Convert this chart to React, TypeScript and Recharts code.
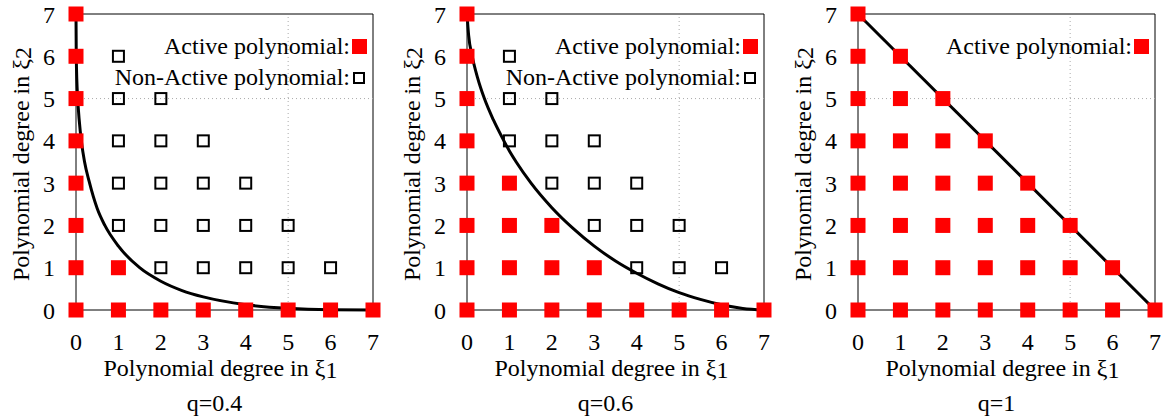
import { ComposedChart, Scatter, Line, XAxis, YAxis, ReferenceArea, ReferenceLine } from "recharts";

const degreeTicks = [0, 1, 2, 3, 4, 5, 6, 7];
const gridAt = 5;

// q = 0.4
const q04Active: [number, number][] = [
  [0, 0], [0, 1], [0, 2], [0, 3], [0, 4], [0, 5], [0, 6], [0, 7],
  [1, 0], [2, 0], [3, 0], [4, 0], [5, 0], [6, 0], [7, 0],
  [1, 1],
];
const q04NonActive: [number, number][] = [
  [1, 2], [1, 3], [1, 4], [1, 5], [1, 6],
  [2, 1], [2, 2], [2, 3], [2, 4], [2, 5],
  [3, 1], [3, 2], [3, 3], [3, 4],
  [4, 1], [4, 2], [4, 3],
  [5, 1], [5, 2],
  [6, 1],
];
const q04Curve: [number, number][] = [
  [0, 7], [0.006, 6], [0.039, 5], [0.05, 4.82], [0.1, 4.23], [0.126, 4], [0.2, 3.51],
  [0.31, 3.04], [0.5, 2.4], [0.68, 2], [1, 1.51], [1.5, 1.0], [2, 0.68], [2.5, 0.46],
  [3, 0.31], [4, 0.126], [5, 0.039], [6, 0.006], [7, 0],
];

// q = 0.6
const q06Active: [number, number][] = [
  [0, 0], [0, 1], [0, 2], [0, 3], [0, 4], [0, 5], [0, 6], [0, 7],
  [1, 0], [2, 0], [3, 0], [4, 0], [5, 0], [6, 0], [7, 0],
  [1, 1], [1, 2], [1, 3], [2, 1], [2, 2], [3, 1],
];
const q06NonActive: [number, number][] = [
  [1, 4], [1, 5], [1, 6],
  [2, 3], [2, 4], [2, 5],
  [3, 2], [3, 3], [3, 4],
  [4, 1], [4, 2], [4, 3],
  [5, 1], [5, 2],
  [6, 1],
];
const q06Curve: [number, number][] = [
  [0, 7], [0.038, 6.5], [0.123, 6], [0.25, 5.49], [0.41, 5], [0.62, 4.5], [0.87, 4],
  [1, 3.76], [1.16, 3.5], [1.51, 3], [2, 2.42], [2.5, 1.93], [3, 1.51], [3.5, 1.16],
  [4, 0.87], [4.5, 0.62], [5, 0.41], [5.5, 0.25], [6, 0.123], [6.5, 0.038], [7, 0],
];

// q = 1
const q1Active: [number, number][] = [
  [0, 0], [0, 1], [0, 2], [0, 3], [0, 4], [0, 5], [0, 6], [0, 7],
  [1, 0], [1, 1], [1, 2], [1, 3], [1, 4], [1, 5], [1, 6],
  [2, 0], [2, 1], [2, 2], [2, 3], [2, 4], [2, 5],
  [3, 0], [3, 1], [3, 2], [3, 3], [3, 4],
  [4, 0], [4, 1], [4, 2], [4, 3],
  [5, 0], [5, 1], [5, 2],
  [6, 0], [6, 1],
  [7, 0],
];
const q1NonActive: [number, number][] = [];
const q1Curve: [number, number][] = [[0, 7], [7, 0]];

const FONT = "'Liberation Serif', 'DejaVu Serif', serif";
const FS = 24;
const RED = "#ff0000";

const toPoints = (pairs: [number, number][]) => pairs.map(([x, y]) => ({ x, y }));

const FilledSquare = (props: any) => (
  <rect x={props.cx - 7.5} y={props.cy - 7.5} width={15} height={15} fill={RED} />
);
const OpenSquare = (props: any) => (
  <rect x={props.cx - 5.5} y={props.cy - 5.5} width={11} height={11} fill="none" stroke="#000" strokeWidth={2} />
);

interface PanelProps {
  left: number;
  width: number;
  plotLeft: number;
  active: [number, number][];
  nonActive: [number, number][];
  curve: [number, number][];
  title: string;
  curveType: "monotone" | "linear";
}

const PLOT_W = 297;
const PLOT_TOP = 14;
const PLOT_BOTTOM = 310;

function Panel({ left, width, plotLeft, active, nonActive, curve, title, curveType }: PanelProps) {
  const plotRight = plotLeft + PLOT_W;
  const center = plotLeft + PLOT_W / 2;
  const midY = (PLOT_TOP + PLOT_BOTTOM) / 2;
  const textStyle = { position: "absolute" as const, fontSize: FS, lineHeight: "28px", whiteSpace: "nowrap" as const };
  return (
    <div style={{ position: "absolute", left, top: 0, width, height: 416, fontFamily: FONT }}>
      <ComposedChart
        width={width}
        height={416}
        margin={{ top: PLOT_TOP, right: width - plotRight, left: plotLeft - 60, bottom: 416 - PLOT_BOTTOM - 30 }}
      >
        <XAxis
          type="number"
          dataKey="x"
          domain={[0, 7]}
          ticks={degreeTicks}
          height={30}
          axisLine={false}
          tickLine={false}
          tickSize={6}
          tickMargin={17}
          tick={{ fontSize: FS, fill: "#000", fontFamily: FONT }}
        />
        <YAxis
          type="number"
          dataKey="y"
          domain={[0, 7]}
          ticks={degreeTicks}
          width={60}
          axisLine={false}
          tickLine={false}
          tickSize={6}
          tickMargin={15}
          tick={{ fontSize: FS, fill: "#000", fontFamily: FONT }}
        />
        <ReferenceArea x1={0} x2={7} y1={0} y2={7} fill="none" stroke="#000" strokeWidth={1} fillOpacity={0} />
        <ReferenceLine x={gridAt} stroke="#aaa" strokeDasharray="1 3" />
        <ReferenceLine y={gridAt} stroke="#aaa" strokeDasharray="1 3" />
        <Scatter data={toPoints(active)} shape={FilledSquare} isAnimationActive={false} />
        {nonActive.length > 0 && (
          <Scatter data={toPoints(nonActive)} shape={OpenSquare} isAnimationActive={false} />
        )}
        <Line
          data={toPoints(curve)}
          dataKey="y"
          type={curveType}
          stroke="#000"
          strokeWidth={3}
          dot={false}
          activeDot={false}
          isAnimationActive={false}
        />
      </ComposedChart>

      {/* legend */}
      <div style={{ ...textStyle, right: width - plotRight + 23, top: 32 }}>Active polynomial:</div>
      <div style={{ position: "absolute", left: plotRight - 21, top: 39, width: 15, height: 15, background: RED }} />
      {nonActive.length > 0 && (
        <>
          <div style={{ ...textStyle, right: width - plotRight + 23, top: 63 }}>Non-Active polynomial:</div>
          <div style={{ position: "absolute", left: plotRight - 20, top: 72, width: 12, height: 12, boxSizing: "border-box", border: "2px solid #000" }} />
        </>
      )}

      {/* axis titles */}
      <div style={{ ...textStyle, left: center - 154, width: 300, top: 354, textAlign: "center" }}>
        Polynomial degree in ξ<span style={{ position: "relative", top: 2 }}>1</span>
      </div>
      <div style={{ ...textStyle, left: center - 160, width: 300, top: 389, textAlign: "center" }}>{title}</div>
      <div
        style={{
          ...textStyle,
          left: plotLeft - 55 - 150,
          top: midY - 14 + 2,
          width: 300,
          textAlign: "center",
          transform: "rotate(-90deg)",
        }}
      >
        Polynomial degree in ξ<span style={{ position: "relative", top: 2 }}>2</span>
      </div>
    </div>
  );
}

export default function App() {
  return (
    <div style={{ position: "absolute", left: 0, top: 0, width: 1165, height: 416, background: "#fff", overflow: "hidden" }}>
      <Panel left={0} width={390} plotLeft={76} active={q04Active} nonActive={q04NonActive} curve={q04Curve} title="q=0.4" curveType="monotone" />
      <Panel left={390} width={390} plotLeft={77} active={q06Active} nonActive={q06NonActive} curve={q06Curve} title="q=0.6" curveType="monotone" />
      <Panel left={780} width={385} plotLeft={78} active={q1Active} nonActive={q1NonActive} curve={q1Curve} title="q=1" curveType="linear" />
    </div>
  );
}
